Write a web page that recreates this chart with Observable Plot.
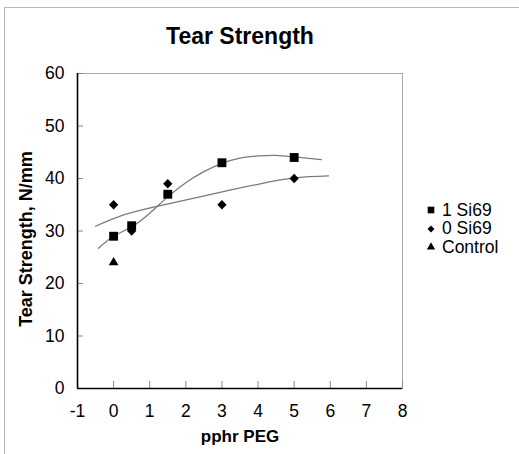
<!DOCTYPE html>
<html><head><meta charset="utf-8">
<script src="https://cdn.jsdelivr.net/npm/d3@7"></script>
<script src="https://cdn.jsdelivr.net/npm/@observablehq/plot@0.6"></script>
<style>
html,body{margin:0;padding:0;background:#fff;}
#wrap{position:relative;width:519px;height:454px;overflow:hidden;font-family:"Liberation Sans",Arial,sans-serif;background:#fff;}
#wrap > svg{position:absolute;left:0;top:0;}
#border{position:absolute;left:4px;top:7px;width:600px;height:600px;border-top:1px solid #b8b8b8;border-left:1px solid #b8b8b8;}
#legend{position:absolute;left:425px;top:201px;font-size:17.5px;color:#000;}
.row{display:flex;align-items:center;height:18.5px;white-space:nowrap;}
.row svg{width:12px;height:12px;margin-right:5px;flex:none;}
</style></head><body><div id="wrap"><div id="border"></div><div id="legend"></div></div>
<script>
// ---- data ----
const xTicks = [-1, 0, 1, 2, 3, 4, 5, 6, 7, 8];
const yTicks = [0, 10, 20, 30, 40, 50, 60];
const seriesNames = ["1 Si69", "0 Si69", "Control"];

const si1X = [0, 0.5, 1.5, 3, 5];
const si1Y = [29, 31, 37, 43, 44];
const si0X = [0, 0.5, 1.5, 3, 5];
const si0Y = [35, 30, 39, 35, 40];
const ctrlX = [0];
const ctrlY = [24];

// trend curves
const trend1X = [-0.42, 0, 0.5, 1.0, 1.5, 2.0, 2.5, 3.0, 3.5, 4.0, 4.5, 5.0, 5.75];
const trend1Y = [26.7, 29.0, 30.8, 33.4, 36.5, 39.2, 41.3, 42.9, 43.9, 44.3, 44.4, 44.1, 43.6];
const trend0X = [-0.5, 0.3, 1.2, 2.2, 3.1, 4.0, 5.0, 5.95];
const trend0Y = [30.9, 33.1, 34.7, 36.2, 37.6, 38.9, 40.1, 40.5];

const zip = (xs, ys) => xs.map((x, i) => ({x, y: ys[i]}));
const s1 = zip(si1X, si1Y), s0 = zip(si0X, si0Y), sc = zip(ctrlX, ctrlY);
const t1 = zip(trend1X, trend1Y), t0 = zip(trend0X, trend0Y);
const fmt = d => String(d);

const chart = Plot.plot({
  width: 519, height: 454,
  marginLeft: 77, marginRight: 117, marginTop: 73, marginBottom: 66,
  style: {fontFamily: '"Liberation Sans", Arial, sans-serif', fontSize: "17px", color: "#000", background: "transparent", overflow: "visible"},
  x: {domain: [-1, 8], label: null},
  y: {domain: [0, 60], label: null},
  marks: [
    Plot.frame({stroke: "#a8a8a8", strokeWidth: 1}),
    Plot.axisX({ticks: xTicks, tickSize: -7, tickFormat: () => "", stroke: "#8a8a8a", label: null}),
    Plot.axisX({ticks: xTicks, tickSize: 0, tickPadding: 16, tickFormat: fmt, fontSize: 17.5, label: null}),
    Plot.axisY({ticks: yTicks, tickSize: -6, tickFormat: () => "", stroke: "#8a8a8a", label: null}),
    Plot.axisY({ticks: yTicks, tickSize: 0, tickPadding: 13, tickFormat: fmt, fontSize: 17.5, label: null}),
    Plot.ruleY([0], {stroke: "#000", strokeWidth: 1.6}),
    Plot.ruleX([-1], {stroke: "#000", strokeWidth: 1.6}),
    Plot.line(t1, {x: "x", y: "y", curve: "natural", stroke: "#7a7a7a", strokeWidth: 1.3}),
    Plot.line(t0, {x: "x", y: "y", curve: "natural", stroke: "#7a7a7a", strokeWidth: 1.3}),
    Plot.dot(s0, {x: "x", y: "y", symbol: "square", rotate: 45, r: 3.7, fill: "#000", stroke: "none"}),
    Plot.dot(s1, {x: "x", y: "y", symbol: "square", r: 5, fill: "#000", stroke: "none"}),
    Plot.dot(sc, {x: "x", y: "y", symbol: "triangle", r: 3.6, fill: "#000", stroke: "none"}),
    Plot.text(["Tear Strength"], {frameAnchor: "top", dy: -37, fontSize: 23, fontWeight: "bold", lineAnchor: "middle"}),
    Plot.text(["Tear Strength, N/mm"], {frameAnchor: "left", dx: -51, dy: 8, rotate: -90, textAnchor: "middle", fontSize: 18, fontWeight: "bold", lineAnchor: "middle"}),
    Plot.text(["pphr PEG"], {frameAnchor: "bottom", dy: 48, fontSize: 17, fontWeight: "bold", lineAnchor: "middle"})
  ]
});
document.getElementById("wrap").appendChild(chart);

// legend
const legendSymbols = [
  {name: seriesNames[0], type: d3.symbolSquare, size: 44, rot: 0},
  {name: seriesNames[1], type: d3.symbolSquare, size: 24, rot: 45},
  {name: seriesNames[2], type: d3.symbolTriangle, size: 30, rot: 0}
];
const legend = d3.select("#legend");
legendSymbols.forEach(s => {
  const row = legend.append("div").attr("class", "row");
  const svg = row.append("svg").attr("viewBox", "-6 -6 12 12");
  svg.append("path").attr("d", d3.symbol(s.type, s.size)()).attr("transform", `rotate(${s.rot})`).attr("fill", "#000");
  row.append("span").text(s.name);
});
</script>
</body></html>
